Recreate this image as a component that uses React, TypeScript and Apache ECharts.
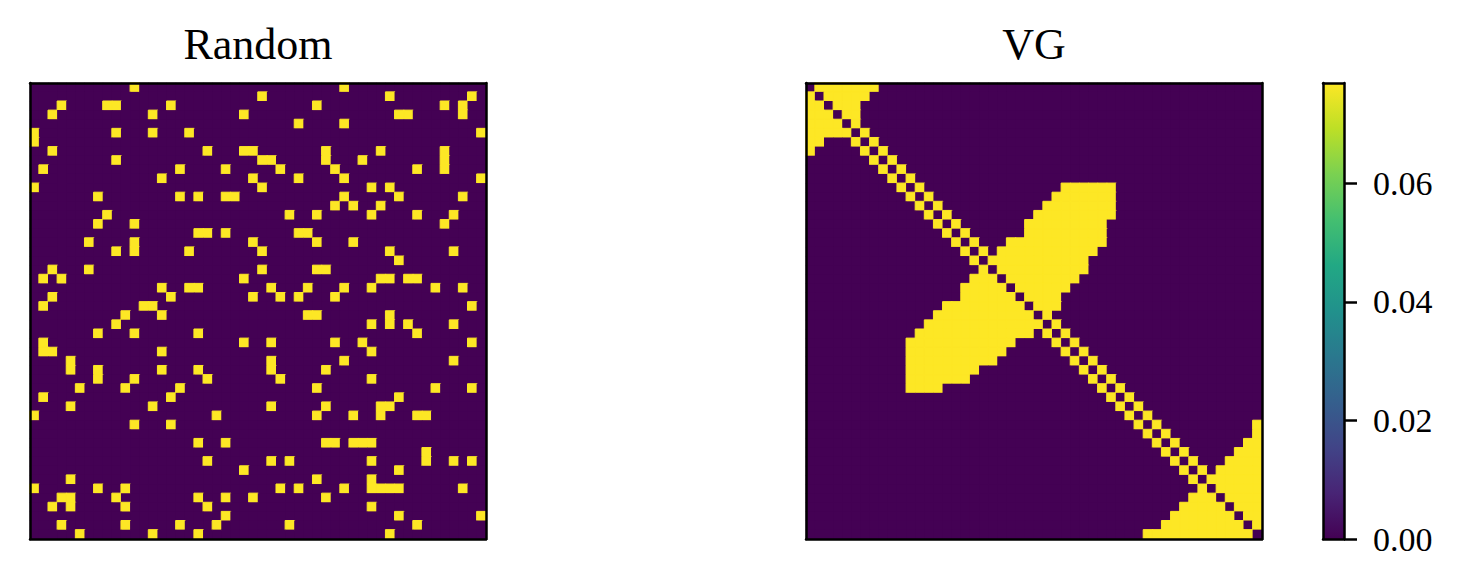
import React, { useEffect, useRef } from "react";
import * as echarts from "echarts";

// ---------- data ----------
const N = 50;
const VMAX = 0.0769;
const colorbarTicks = [0, 0.02, 0.04, 0.06];
const panelTitles = ["Random", "VG"];
const viridis = [
  "#440154", "#482475", "#414487", "#355f8d", "#2a788e", "#21918c",
  "#22a884", "#44bf70", "#7ad151", "#bddf26", "#fde725",
];

// column indices of the non-zero cells, one list per row (row 0 at top)
const randomOnes: number[][] = [
  [11, 34],
  [25, 39, 48],
  [3, 8, 9, 15, 31, 45, 47],
  [2, 13, 23, 40, 41, 47],
  [29, 34],
  [0, 9, 13, 17, 49],
  [0],
  [2, 19, 23, 24, 32, 38, 45],
  [9, 25, 26, 32, 36, 45],
  [1, 16, 21, 27, 33, 42, 45],
  [14, 24, 29, 34, 49],
  [0, 25, 37, 39],
  [7, 16, 18, 21, 22, 34, 40, 47],
  [33, 35, 38],
  [8, 28, 31, 37, 42, 46],
  [7, 11, 45],
  [18, 19, 21, 29, 30],
  [6, 11, 24, 31, 35],
  [9, 11, 17, 25, 39, 46],
  [40],
  [2, 6, 25, 31, 32],
  [1, 3, 23, 38, 39, 41, 42],
  [14, 17, 18, 26, 30, 34, 37, 44, 47],
  [2, 15, 24, 27, 29, 33],
  [1, 12, 13, 48],
  [10, 14, 30, 31, 39],
  [9, 37, 39, 41, 46],
  [7, 11, 18, 42],
  [1, 23, 26, 33, 36, 48],
  [1, 2, 14, 37],
  [4, 26, 34, 46],
  [4, 7, 14, 18, 26, 32],
  [7, 11, 19, 27, 37],
  [5, 10, 16, 31, 44, 48],
  [1, 15, 40],
  [4, 13, 26, 32, 38, 39],
  [0, 20, 31, 35, 38, 42, 43],
  [11, 15],
  [],
  [18, 21, 32, 33, 35, 36, 37],
  [43],
  [19, 26, 28, 37, 43, 46, 48],
  [23, 40],
  [4, 31, 37],
  [0, 7, 10, 27, 29, 34, 37, 38, 39, 40, 47],
  [3, 4, 9, 18, 21, 24, 32],
  [2, 4, 10, 19, 37],
  [21, 40, 49],
  [3, 10, 16, 20, 28, 42],
  [5, 13, 18, 39],
];

const vgOnes: number[][] = [
  [1, 2, 3, 4, 5, 6, 7],
  [0, 2, 3, 4, 5, 6],
  [0, 1, 3, 4, 5],
  [0, 1, 2, 4, 5],
  [0, 1, 2, 3, 5],
  [0, 1, 2, 3, 4, 6],
  [0, 1, 5, 7],
  [0, 6, 8],
  [7, 9],
  [8, 10],
  [9, 11],
  [10, 12, 28, 29, 30, 31, 32, 33],
  [11, 13, 27, 28, 29, 30, 31, 32, 33],
  [12, 14, 26, 27, 28, 29, 30, 31, 32, 33],
  [13, 15, 25, 26, 27, 28, 29, 30, 31, 32, 33],
  [14, 16, 24, 25, 26, 27, 28, 29, 30, 31, 32],
  [15, 17, 24, 25, 26, 27, 28, 29, 30, 31, 32],
  [16, 18, 22, 23, 24, 25, 26, 27, 28, 29, 30, 31, 32],
  [17, 19, 21, 22, 23, 24, 25, 26, 27, 28, 29, 30, 31],
  [18, 20, 21, 22, 23, 24, 25, 26, 27, 28, 29, 30],
  [19, 21, 22, 23, 24, 25, 26, 27, 28, 29, 30],
  [18, 19, 20, 22, 23, 24, 25, 26, 27, 28, 29],
  [17, 18, 19, 20, 21, 23, 24, 25, 26, 27, 28],
  [17, 18, 19, 20, 21, 22, 24, 25, 26, 27],
  [15, 16, 17, 18, 19, 20, 21, 22, 23, 25, 26, 27],
  [14, 15, 16, 17, 18, 19, 20, 21, 22, 23, 24, 26],
  [13, 14, 15, 16, 17, 18, 19, 20, 21, 22, 23, 24, 25, 27],
  [12, 13, 14, 15, 16, 17, 18, 19, 20, 21, 22, 23, 24, 26, 28],
  [11, 12, 13, 14, 15, 16, 17, 18, 19, 20, 21, 22, 27, 29],
  [11, 12, 13, 14, 15, 16, 17, 18, 19, 20, 21, 28, 30],
  [11, 12, 13, 14, 15, 16, 17, 18, 19, 20, 29, 31],
  [11, 12, 13, 14, 15, 16, 17, 18, 30, 32],
  [11, 12, 13, 14, 15, 16, 17, 31, 33],
  [11, 12, 13, 14, 32, 34],
  [33, 35],
  [34, 36],
  [35, 37],
  [36, 38, 49],
  [37, 39, 49],
  [38, 40, 48, 49],
  [39, 41, 47, 48, 49],
  [40, 42, 46, 47, 48, 49],
  [41, 43, 45, 46, 47, 48, 49],
  [42, 44, 45, 46, 47, 48, 49],
  [43, 45, 46, 47, 48, 49],
  [42, 43, 44, 46, 47, 48, 49],
  [41, 42, 43, 44, 45, 47, 48, 49],
  [40, 41, 42, 43, 44, 45, 46, 48, 49],
  [39, 40, 41, 42, 43, 44, 45, 46, 47, 49],
  [37, 38, 39, 40, 41, 42, 43, 44, 45, 46, 47, 48],
];

// ---------- helpers ----------
const cats = Array.from({ length: N }, (_, i) => String(i));
const TOP_COLOR = viridis[viridis.length - 1];

function toCells(ones: number[][]) {
  const out: any[] = [];
  for (let r = 0; r < N; r++) {
    const s = new Set(ones[r]);
    for (let c = 0; c < N; c++) {
      if (s.has(c)) {
        // same-colour hairline border hides anti-aliasing seams between adjacent cells
        out.push({ value: [c, r, VMAX], itemStyle: { borderColor: TOP_COLOR, borderWidth: 1 } });
      } else {
        out.push([c, r, 0]);
      }
    }
  }
  return out;
}

const SERIF = '"Liberation Serif", "Times New Roman", serif';
const FRAME = { color: "#000", width: 2.5 };

const GRIDS = [
  { left: 30, top: 83, width: 456, height: 456 },
  { left: 806, top: 83, width: 456, height: 456 },
  { left: 1323, top: 83, width: 21, height: 456 },
];

function frameX(gridIndex: number, position: string, data: string[]) {
  return {
    type: "category",
    gridIndex,
    position,
    data,
    z: 10,
    axisLine: { show: true, onZero: false, lineStyle: FRAME },
    axisTick: { show: false },
    axisLabel: { show: false },
    splitLine: { show: false },
  };
}
function frameY(gridIndex: number, position: string) {
  return {
    type: "category",
    gridIndex,
    position,
    data: cats,
    inverse: true,
    z: 10,
    axisLine: { show: true, onZero: false, lineStyle: FRAME },
    axisTick: { show: false },
    axisLabel: { show: false },
    splitLine: { show: false },
  };
}

export default function App() {
  const ref = useRef<HTMLDivElement>(null);

  useEffect(() => {
    if (!ref.current) return;
    const chart = echarts.init(ref.current, undefined, { renderer: "svg" });

    const gradStops = viridis.map((c, i) => ({ offset: i / (viridis.length - 1), color: c }));

    const option: any = {
      animation: false,
      backgroundColor: "#fff",
      grid: GRIDS.map((g, i) => ({
        ...g,
        containLabel: false,
        show: i < 2,
        backgroundColor: viridis[0],
        borderWidth: 0,
      })),
      xAxis: [
        frameX(0, "bottom", cats),
        frameX(0, "top", cats),
        frameX(1, "bottom", cats),
        frameX(1, "top", cats),
        frameX(2, "bottom", ["cb"]),
        frameX(2, "top", ["cb"]),
      ],
      yAxis: [
        frameY(0, "left"),
        frameY(0, "right"),
        frameY(1, "left"),
        frameY(1, "right"),
        {
          type: "value",
          gridIndex: 2,
          position: "left",
          min: 0,
          max: VMAX,
          z: 10,
          axisLine: { show: true, onZero: false, lineStyle: FRAME },
          axisTick: { show: false },
          axisLabel: { show: false },
          splitLine: { show: false },
        },
        {
          type: "value",
          gridIndex: 2,
          position: "right",
          min: 0,
          max: VMAX,
          z: 10,
          axisLine: { show: true, onZero: false, lineStyle: FRAME },
          axisTick: {
            show: true,
            inside: false,
            length: 13,
            customValues: colorbarTicks,
            lineStyle: { color: "#000", width: 2.5 },
          },
          axisLabel: {
            show: true,
            customValues: colorbarTicks,
            margin: 29,
            color: "#000",
            fontFamily: SERIF,
            fontSize: 34,
            formatter: (v: number) => v.toFixed(2),
          },
          splitLine: { show: false },
        },
      ],
      visualMap: {
        type: "continuous",
        show: false,
        min: 0,
        max: VMAX,
        dimension: 2,
        seriesIndex: [0, 1],
        inRange: { color: viridis },
      },
      series: [
        {
          type: "heatmap",
          xAxisIndex: 0,
          yAxisIndex: 0,
          data: toCells(randomOnes),
          itemStyle: { borderWidth: 0 },
          emphasis: { disabled: true },
        },
        {
          type: "heatmap",
          xAxisIndex: 2,
          yAxisIndex: 2,
          data: toCells(vgOnes),
          itemStyle: { borderWidth: 0 },
          emphasis: { disabled: true },
        },
        {
          type: "bar",
          xAxisIndex: 4,
          yAxisIndex: 5,
          data: [VMAX],
          barWidth: "100%",
          itemStyle: {
            color: new echarts.graphic.LinearGradient(0, 1, 0, 0, gradStops),
          },
          emphasis: { disabled: true },
        },
      ],
      graphic: panelTitles.map((t, i) => ({
        type: "text",
        x: GRIDS[i].left + GRIDS[i].width / 2,
        y: 44,
        style: {
          text: t,
          fill: "#000",
          fontFamily: SERIF,
          fontSize: 44,
          align: "center",
          verticalAlign: "middle",
        },
      })),
    };

    chart.setOption(option);
    return () => chart.dispose();
  }, []);

  return (
    <div
      ref={ref}
      style={{ position: "absolute", left: 0, top: 0, width: 1467, height: 586 }}
    />
  );
}
